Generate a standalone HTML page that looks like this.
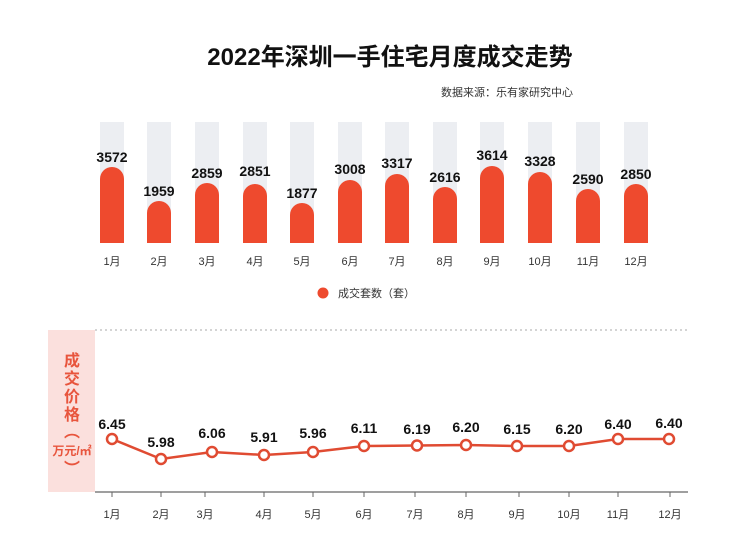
<!DOCTYPE html>
<html><head><meta charset="utf-8"><style>
html,body{margin:0;padding:0;background:#fff;}
svg{display:block;font-family:"Liberation Sans","Noto Sans CJK SC",sans-serif;}
</style></head><body>
<svg width="740" height="560" viewBox="0 0 740 560" xmlns="http://www.w3.org/2000/svg">
<rect width="740" height="560" fill="#fff"/>
<text x="390" y="65" text-anchor="middle" font-size="24" font-weight="bold" fill="#111">2022年深圳一手住宅月度成交走势</text>
<text x="507" y="96" text-anchor="middle" font-size="11" fill="#333">数据来源：乐有家研究中心</text>
<g id="bars">
<g fill="#eceef2">
<rect x="100" y="122" width="24" height="121"/><rect x="147" y="122" width="24" height="121"/><rect x="195" y="122" width="24" height="121"/><rect x="243" y="122" width="24" height="121"/><rect x="290" y="122" width="24" height="121"/><rect x="338" y="122" width="24" height="121"/><rect x="385" y="122" width="24" height="121"/><rect x="433" y="122" width="24" height="121"/><rect x="480" y="122" width="24" height="121"/><rect x="528" y="122" width="24" height="121"/><rect x="576" y="122" width="24" height="121"/><rect x="624" y="122" width="24" height="121"/>
</g>
<g fill="#ee4a2e">
<path d="M100 243V179a12 12 0 0 1 24 0V243Z"/>
<path d="M147 243V213a12 12 0 0 1 24 0V243Z"/>
<path d="M195 243V195a12 12 0 0 1 24 0V243Z"/>
<path d="M243 243V196a12 12 0 0 1 24 0V243Z"/>
<path d="M290 243V215a12 12 0 0 1 24 0V243Z"/>
<path d="M338 243V192a12 12 0 0 1 24 0V243Z"/>
<path d="M385 243V186a12 12 0 0 1 24 0V243Z"/>
<path d="M433 243V199a12 12 0 0 1 24 0V243Z"/>
<path d="M480 243V178a12 12 0 0 1 24 0V243Z"/>
<path d="M528 243V184a12 12 0 0 1 24 0V243Z"/>
<path d="M576 243V201a12 12 0 0 1 24 0V243Z"/>
<path d="M624 243V196a12 12 0 0 1 24 0V243Z"/>
</g>
<g font-size="14" font-weight="bold" fill="#111" text-anchor="middle">
<text x="112" y="162">3572</text><text x="159" y="196">1959</text><text x="207" y="178">2859</text><text x="255" y="176">2851</text><text x="302" y="198">1877</text><text x="350" y="174">3008</text><text x="397" y="168">3317</text><text x="445" y="182">2616</text><text x="492" y="160">3614</text><text x="540" y="166">3328</text><text x="588" y="184">2590</text><text x="636" y="179">2850</text>
</g>
<g font-size="11" fill="#333" text-anchor="middle">
<text x="112" y="265">1月</text><text x="159" y="265">2月</text><text x="207" y="265">3月</text><text x="255" y="265">4月</text><text x="302" y="265">5月</text><text x="350" y="265">6月</text><text x="397" y="265">7月</text><text x="445" y="265">8月</text><text x="492" y="265">9月</text><text x="540" y="265">10月</text><text x="588" y="265">11月</text><text x="636" y="265">12月</text>
</g>
<circle cx="323" cy="293" r="5.5" fill="#ee4a2e"/>
<text x="338" y="297" font-size="11" fill="#333">成交套数（套）</text>
</g>
<line x1="95" y1="330" x2="690" y2="330" stroke="#aaa" stroke-dasharray="2,3"/>
<rect x="48" y="330" width="47" height="162" fill="#fbe0dd"/>
<g font-size="16" font-weight="bold" fill="#e8553d" text-anchor="middle">
<text x="72" y="366">成</text><text x="72" y="384">交</text><text x="72" y="402">价</text><text x="72" y="420">格</text>
<text x="72" y="437">︵</text>
<text x="72" y="455" font-size="12">万元/㎡</text>
<text x="72" y="474">︶</text>
</g>
<line x1="95" y1="492" x2="688" y2="492" stroke="#666" stroke-width="1.2"/>
<g stroke="#666">
<line x1="112" y1="492" x2="112" y2="497"/><line x1="161" y1="492" x2="161" y2="497"/><line x1="205" y1="492" x2="205" y2="497"/><line x1="264" y1="492" x2="264" y2="497"/><line x1="313" y1="492" x2="313" y2="497"/><line x1="364" y1="492" x2="364" y2="497"/><line x1="415" y1="492" x2="415" y2="497"/><line x1="466" y1="492" x2="466" y2="497"/><line x1="519" y1="492" x2="519" y2="497"/><line x1="569" y1="492" x2="569" y2="497"/><line x1="618" y1="492" x2="618" y2="497"/><line x1="670" y1="492" x2="670" y2="497"/>
</g>
<g font-size="11" fill="#333" text-anchor="middle">
<text x="112" y="518">1月</text><text x="161" y="518">2月</text><text x="205" y="518">3月</text><text x="264" y="518">4月</text><text x="313" y="518">5月</text><text x="364" y="518">6月</text><text x="415" y="518">7月</text><text x="466" y="518">8月</text><text x="517" y="518">9月</text><text x="569" y="518">10月</text><text x="618" y="518">11月</text><text x="670" y="518">12月</text>
</g>
<polyline fill="none" stroke="#e04b32" stroke-width="2.5" points="112,439 161,459 212,452 264,455 313,452 364,446 417,445.5 466,445 517,446 569,446 618,439 669,439"/>
<g fill="#fff" stroke="#e04b32" stroke-width="2.5">
<circle cx="112" cy="439" r="5"/><circle cx="161" cy="459" r="5"/><circle cx="212" cy="452" r="5"/><circle cx="264" cy="455" r="5"/><circle cx="313" cy="452" r="5"/><circle cx="364" cy="446" r="5"/><circle cx="417" cy="445.5" r="5"/><circle cx="466" cy="445" r="5"/><circle cx="517" cy="446" r="5"/><circle cx="569" cy="446" r="5"/><circle cx="618" cy="439" r="5"/><circle cx="669" cy="439" r="5"/>
</g>
<g font-size="14" font-weight="bold" fill="#111" text-anchor="middle">
<text x="112" y="429">6.45</text><text x="161" y="447">5.98</text><text x="212" y="438">6.06</text><text x="264" y="442">5.91</text><text x="313" y="438">5.96</text><text x="364" y="433">6.11</text><text x="417" y="434">6.19</text><text x="466" y="432">6.20</text><text x="517" y="434">6.15</text><text x="569" y="434">6.20</text><text x="618" y="429">6.40</text><text x="669" y="428">6.40</text>
</g>
</svg>
</body></html>
